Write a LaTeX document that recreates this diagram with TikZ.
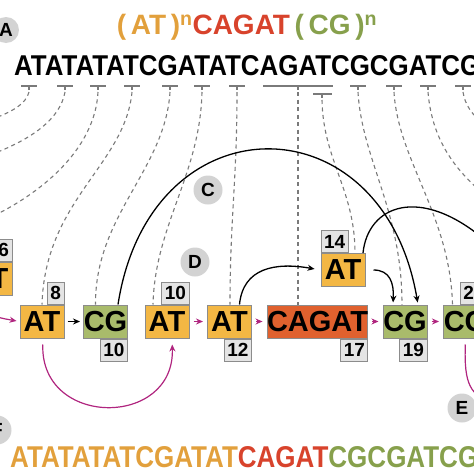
\documentclass[tikz,border=0pt]{standalone}
\usepackage{fontspec}
\setmainfont{Liberation Sans}
\usetikzlibrary{arrows.meta}

\definecolor{atfill}{HTML}{F3B744}
\definecolor{cgfill}{HTML}{A9BB6B}
\definecolor{cagatfill}{HTML}{E0612E}
\definecolor{attext}{HTML}{E2A03C}
\definecolor{cgtext}{HTML}{87A04C}
\definecolor{cagattext}{HTML}{D8432C}
\definecolor{boxline}{HTML}{8C8C8C}
\definecolor{badgefill}{HTML}{E4E4E4}
\definecolor{tagfill}{HTML}{D3D3D3}
\definecolor{traceline}{HTML}{7A7A7A}
\definecolor{linkpink}{HTML}{B0257F}

\begin{document}
\begin{tikzpicture}[
        x=1pt, y=-1pt,
        >={Stealth[length=7pt,width=6pt]},
        every node/.style={font=\bfseries},
        unitbox/.style={
            draw=boxline,
            line width=1pt,
            minimum width=44pt,
            minimum height=33pt,
            inner sep=0pt,
            font=\bfseries\fontsize{29}{29}\selectfont
        },
        atbox/.style={unitbox, fill=atfill},
        cgbox/.style={unitbox, fill=cgfill},
        cagatbox/.style={unitbox, fill=cagatfill, minimum width=95pt},
        badge/.style={
            draw=boxline,
            fill=badgefill,
            line width=1pt,
            minimum height=22pt,
            minimum width=15pt,
            inner xsep=3pt,
            inner ysep=0pt,
            font=\bfseries\fontsize{19}{19}\selectfont
        },
        tag/.style={circle, fill=tagfill, minimum size=29pt, inner sep=0pt,
            font=\bfseries\fontsize{19}{19}\selectfont},
        trace/.style={draw=traceline, dash pattern=on 4pt off 3.5pt, line width=1.1pt},
        tick/.style={draw=traceline, line width=1.1pt},
        jump/.style={->, line width=1.3pt},
        link/.style={->, draw=linkpink, line width=1.2pt}
    ]
        \clip (0,0) rectangle (474,474);
        \useasboundingbox (0,0) rectangle (474,474);

        % motif and sequence
        \node (title) at (247,27) {\fontsize{28}{28}\selectfont
            \textcolor{attext}{(\,AT\,)\textsuperscript{n}}\textcolor{cagattext}{CAGAT}\textcolor{cgtext}{\,(\,CG\,)\textsuperscript{n}}};
        \node[anchor=base west, inner sep=0pt] (seqtop) at (14,75)
            {\resizebox{466pt}{20pt}{ATATATATCGATATCAGATCGCGATCG}};
        \node[anchor=base west, inner sep=0pt] (seqbottom) at (10,467)
            {\resizebox{468pt}{21pt}{\textcolor{attext}{ATATATATCGATAT}\textcolor{cagattext}{CAGAT}\textcolor{cgtext}{CGCGATCG}}};

        % repeat units
        \node[atbox] (at6) at (-10,278.5) {AT};
        \node[atbox] (at8) at (42,321.5) {AT};
        \node[cgbox] (cg10) at (105.5,321.5) {CG};
        \node[atbox] (at10) at (167,321.5) {AT};
        \node[atbox] (at12) at (229.5,321.5) {AT};
        \node[cagatbox] (cagat) at (317.5,321.5) {CAGAT};
        \node[atbox] (at14) at (343,270) {AT};
        \node[cgbox] (cg19) at (405,321.5) {CG};
        \node[cgbox] (cg21) at (465.5,321.5) {CG};

        \node[badge, anchor=south east] (b6) at (at6.north east) {6};
        \node[badge, anchor=south east] (b8) at (at8.north east) {8};
        \node[badge, anchor=north east] (b10a) at (cg10.south east) {10};
        \node[badge, anchor=south east] (b10b) at (at10.north east) {10};
        \node[badge, anchor=north east] (b12) at (at12.south east) {12};
        \node[badge, anchor=north east] (b17) at (cagat.south east) {17};
        \node[badge, anchor=south west] (b14) at (at14.north west) {14};
        \node[badge, anchor=north east] (b19) at (cg19.south east) {19};
        \node[badge, anchor=south east] (b21) at (cg21.north east) {21};

        % panel tags
        \node[tag, minimum size=26pt] (tagA) at (6,30) {A};
        \node[tag] (tagC) at (208,190) {C};
        \node[tag] (tagD) at (195,262) {D};
        \node[tag] (tagE) at (462,408) {E};
        \node[tag] (tagF) at (-3,430) {F};

        % underlines
        \foreach \x/\name in {29/u1, 65/u2, 98/u3, 132/u4, 170/u5, 202/u6, 237/u7,
                              358/u10, 394/u11, 428/u12, 463/u13} {
            \draw[tick] (\x-8,86) -- (\x+8,86) (\x,86) -- (\x,90);
            \coordinate (\name) at (\x,92);
        }
        \draw[tick] (263,86) -- (333,86) (298,86) -- (298,90);
        \coordinate (u8) at (298,92);
        \draw[tick] (313,94) -- (332,94) (322,94) -- (322,98);
        \coordinate (u9) at (322,100);

        \coordinate (offleft1) at (-10,120);
        \coordinate (offleft2) at (-10,155);
        \coordinate (offleft3) at (-15,220);
        \coordinate (offright1) at (485,195);
        \coordinate (offright2) at (485,125);

        \draw[trace] (u1) .. controls (26,104) and (12,112) .. (offleft1);
        \draw[trace] (u2) .. controls (60,120) and (30,140) .. (offleft2);
        \draw[trace] (u3) .. controls (95,150) and (40,195) .. (offleft3);
        \draw[trace] (u4) .. controls (125,165) and (45,200) .. (at8.north);
        \draw[trace] (u5) .. controls (165,170) and (95,215) .. ([xshift=-10pt]cg10.north);
        \draw[trace] (u6) .. controls (200,175) and (155,225) .. ([xshift=-14pt]at10.north);
        \draw[trace] (u7) .. controls (237,180) and (230,220) .. ([xshift=0.5pt]at12.north);
        \draw[trace] (u8) -- ([xshift=-19.5pt]cagat.north);
        \draw[trace] (u9) .. controls (323,160) and (355,190) .. ([xshift=12pt]at14.north);
        \draw[trace] (u10) .. controls (362,160) and (402,210) .. ([xshift=-3pt]cg19.north);
        \draw[trace] (u11) .. controls (398,160) and (450,215) .. ([xshift=-13pt]cg21.north);
        \draw[trace] (u12) .. controls (432,140) and (455,170) .. (offright1);
        \draw[trace] (u13) .. controls (465,105) and (472,115) .. (offright2);

        % jumps between units
        \coordinate (offright3) at (485,240);
        \draw[jump, shorten >=2pt] ([xshift=12.5pt]cg10.north) .. controls (150,98) and (383,98) .. ([xshift=13pt]cg19.north);
        \draw[line width=1.3pt] ([xshift=20pt]at14.north) .. controls (368,205) and (420,185) .. (offright3);
        \draw[jump, shorten <=8pt, shorten >=2pt] (at14.east) .. controls (390,270) and (394,283) .. ([xshift=-12pt]cg19.north);
        \draw[jump, shorten >=6pt] ([xshift=10pt]at12.north) .. controls (243,268) and (275,262) .. (at14.west);
        \draw[jump, shorten <=3pt, shorten >=3pt] (at8) -- (cg10);

        % reading order
        \coordinate (offleft4) at (-20,312);
        \coordinate (offright4) at (495,405);
        \draw[link, shorten >=3pt] (offleft4) .. controls (0,318) .. (at8.west);
        \draw[link, shorten <=4pt, shorten >=4pt] (at10) -- (at12);
        \draw[link, shorten <=4pt, shorten >=4pt] (at12) -- (cagat);
        \draw[link, shorten <=4pt, shorten >=4pt] (cagat) -- (cg19);
        \draw[link, shorten <=4pt, shorten >=4pt] (cg19) -- (cg21);
        \draw[link, shorten <=6pt, shorten >=6pt] ([xshift=1pt]at8.south) .. controls (40,428) and (175,428) .. ([xshift=5pt]at10.south);
        \draw[draw=linkpink, line width=1.2pt, shorten <=6pt] (cg21.south) .. controls (464,385) and (470,395) .. (offright4);
    \end{tikzpicture}
\end{document}
